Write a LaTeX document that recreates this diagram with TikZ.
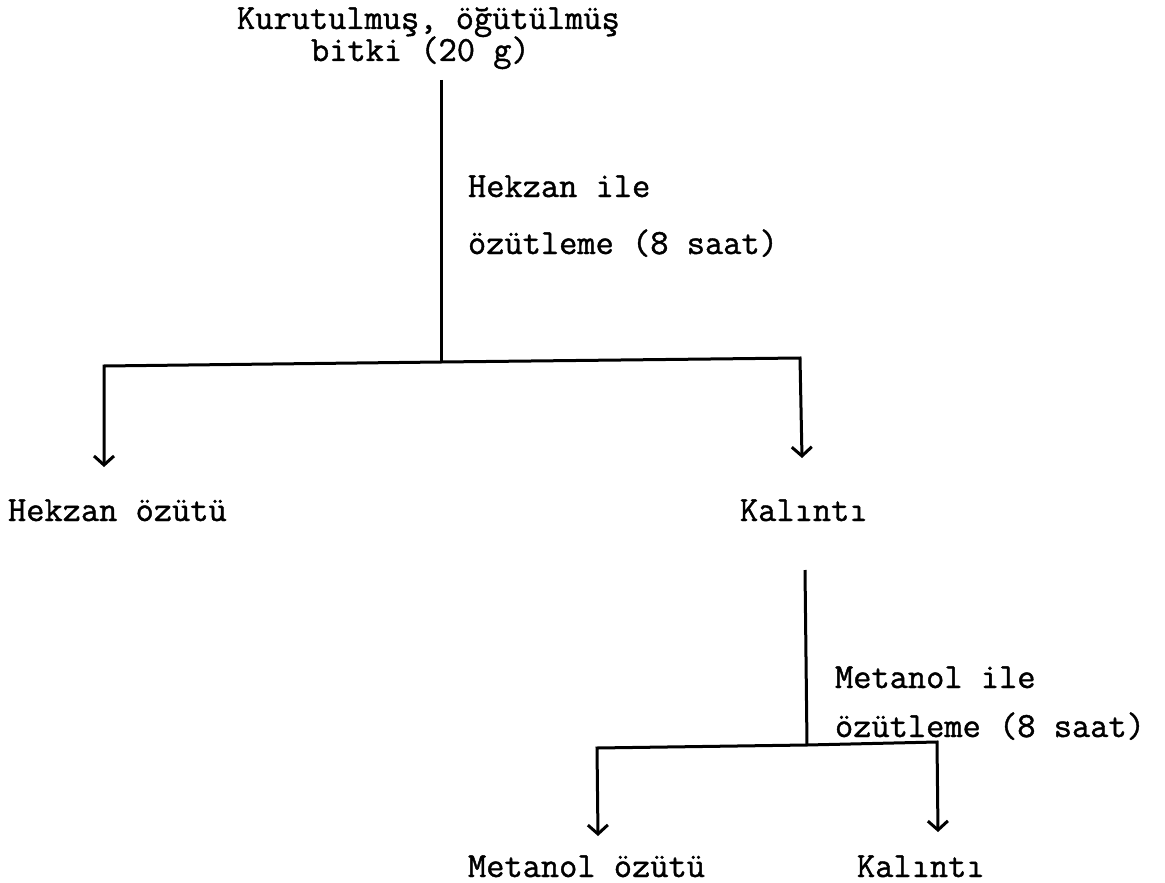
\documentclass[tikz,border=0pt]{standalone}
\usepackage{fontspec}
\newfontfamily\typewriter{Latin Modern Mono}[FakeBold=1.2]
\usetikzlibrary{arrows.meta}
\begin{document}
\begin{tikzpicture}[x=1pt,y=-1pt,
  every node/.style={inner sep=0pt, outer sep=0pt, anchor=base west,
    font=\typewriter\fontsize{35.4}{40}\selectfont},
  flow/.style={line width=3pt, line join=miter},
  drop/.style={flow, -{Straight Barb[length=9pt,width=20pt,line width=3pt]}}]
\useasboundingbox (0,0) rectangle (1165,883);

% starting material
\node (startA) at (237,29) {Kurutulmuş, öğütülmüş};
\node (startB) at (311,61) {bitki (20 g)};

% first extraction
\coordinate (t1) at (441,80);
\coordinate (j1) at (441,362);
\coordinate (l1) at (104,366);
\coordinate (r1) at (800,358);
\coordinate (lt) at (104,467);
\coordinate (rt) at (802,458);
\draw[flow] (t1) -- (j1);
\draw[drop] (j1) -- (l1) -- (lt);
\draw[drop] (j1) -- (r1) -- (rt);
\node (hexA) at (468,197) {Hekzan ile};
\node (hexB) at (468,254) {özütleme (8 saat)};

\node (hexout) at (8,521) {Hekzan özütü};
\node (res1) at (740,521) {Kalıntı};

% second extraction
\coordinate (t2) at (805,570);
\coordinate (j2) at (807,745);
\coordinate (l2) at (597,748);
\coordinate (r2) at (937,742);
\coordinate (l2t) at (598,836);
\coordinate (r2t) at (938,832);
\draw[flow] (t2) -- (j2);
\draw[drop] (j2) -- (l2) -- (l2t);
\draw[drop] (j2) -- (r2) -- (r2t);
\node (metA) at (835,688) {Metanol ile};
\node (metB) at (835,737) {özütleme (8 saat)};

\node (metout) at (468,877) {Metanol özütü};
\node (res2) at (857,877) {Kalıntı};
\end{tikzpicture}
\end{document}
